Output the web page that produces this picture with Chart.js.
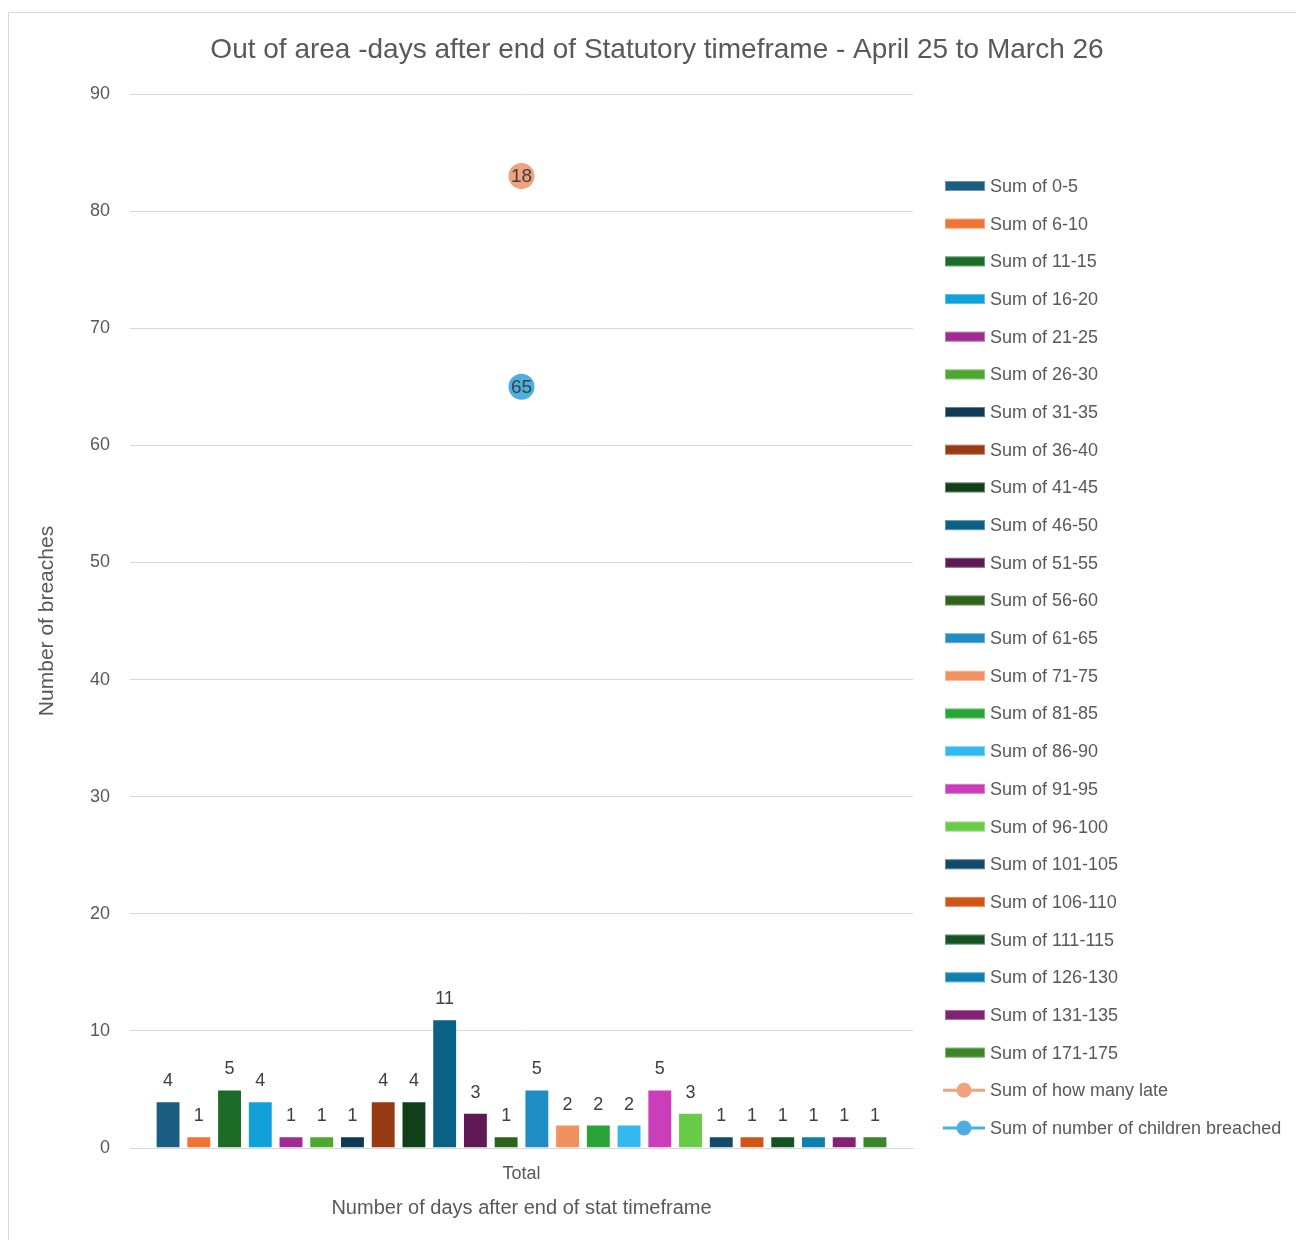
<!DOCTYPE html>
<html>
<head>
<meta charset="utf-8">
<title>Out of area - days after end of Statutory timeframe</title>
<script src="https://cdn.jsdelivr.net/npm/chart.js@4/dist/chart.umd.min.js"></script>
<style>
  html, body { margin: 0; padding: 0; background: #ffffff; }
  #wrap { position: relative; width: 1296px; height: 1240px; }
  canvas { display: block; }
</style>
</head>
<body>
<div id="wrap"><canvas id="chart" width="1296" height="1240"></canvas></div>
<script>
// ---- data ----
const categories = ['Total'];
const bandLabels = [
  'Sum of 0-5', 'Sum of 6-10', 'Sum of 11-15', 'Sum of 16-20', 'Sum of 21-25',
  'Sum of 26-30', 'Sum of 31-35', 'Sum of 36-40', 'Sum of 41-45', 'Sum of 46-50',
  'Sum of 51-55', 'Sum of 56-60', 'Sum of 61-65', 'Sum of 71-75', 'Sum of 81-85',
  'Sum of 86-90', 'Sum of 91-95', 'Sum of 96-100', 'Sum of 101-105', 'Sum of 106-110',
  'Sum of 111-115', 'Sum of 126-130', 'Sum of 131-135', 'Sum of 171-175'
];
const bandCounts = [4, 1, 5, 4, 1, 1, 1, 4, 4, 11, 3, 1, 5, 2, 2, 2, 5, 3, 1, 1, 1, 1, 1, 1];
const bandColors = [
  '#1B5E82', '#EE7433', '#1C6B27', '#12A0D8', '#A02B93',
  '#4EA72E', '#0E3A55', '#963B13', '#113F18', '#0B6183',
  '#5F1A56', '#2F631C', '#1F8DC3', '#F0915F', '#29A436',
  '#32BAEE', '#CC3DBA', '#68CB47', '#114A6B', '#D05618',
  '#155323', '#0D80AE', '#832275', '#3D8627'
];
const childrenLabel = 'Sum of number of children breached';
const childrenBreached = [65];
const childrenColor = '#4BAFE1';
const lateLabel = 'Sum of how many late';
const howManyLate = [18];
const lateColor = '#F2A27B';

const titleText = 'Out of area -days after end of Statutory timeframe - April 25 to March 26';
const yTitle = 'Number of breaches';
const xTitle = 'Number of days after end of stat timeframe';
const yTicks = { min: 0, max: 90, step: 10 };

const FONT = '"Liberation Sans", Arial, sans-serif';
const TEXT = '#595959';
const LABEL = '#404040';
const GRID = '#D9D9D9';

Chart.defaults.font.family = FONT;
Chart.defaults.color = TEXT;

// ---- datasets ----
const barSets = bandLabels.map((label, i) => ({
  type: 'bar',
  label,
  data: [bandCounts[i]],
  backgroundColor: bandColors[i],
  borderColor: 'rgba(255,255,255,0.35)',
  borderWidth: 1,
  yAxisID: 'y',
  barPercentage: 0.81,
  categoryPercentage: 0.942
}));

// The two totals are stacked lines: "how many late" sits on top of "children breached".
const lineSets = [
  { type: 'line', label: childrenLabel, data: childrenBreached, yAxisID: 'yStack',
    borderColor: childrenColor, backgroundColor: childrenColor,
    pointBackgroundColor: childrenColor, pointBorderWidth: 0, pointRadius: 13, showLine: false },
  { type: 'line', label: lateLabel, data: howManyLate, yAxisID: 'yStack',
    borderColor: lateColor, backgroundColor: lateColor,
    pointBackgroundColor: lateColor, pointBorderWidth: 0, pointRadius: 13, showLine: false }
];

// ---- plugins ----
const framePlugin = {
  id: 'frame',
  beforeDraw(chart) {
    const ctx = chart.ctx;
    ctx.save();
    ctx.fillStyle = '#ffffff';
    ctx.fillRect(0, 0, chart.width, chart.height);
    ctx.strokeStyle = '#D9D9D9';
    ctx.lineWidth = 1;
    ctx.strokeRect(8.5, 12.5, chart.width + 20, chart.height + 20);
    ctx.restore();
  }
};

const titlePlugin = {
  id: 'chartTitle',
  afterDraw(chart) {
    const ctx = chart.ctx;
    ctx.save();
    ctx.font = '28px ' + FONT;
    ctx.fillStyle = TEXT;
    ctx.textAlign = 'center';
    ctx.textBaseline = 'middle';
    ctx.fillText(titleText, 657, 50);
    ctx.restore();
  }
};

const valueLabelPlugin = {
  id: 'valueLabels',
  afterDatasetsDraw(chart) {
    const ctx = chart.ctx;
    ctx.save();
    ctx.fillStyle = LABEL;
    ctx.textAlign = 'center';
    chart.data.datasets.forEach((ds, i) => {
      const meta = chart.getDatasetMeta(i);
      if (meta.hidden) return;
      meta.data.forEach((el, j) => {
        const v = ds.data[j];
        if (meta.type === 'bar') {
          ctx.font = '18px ' + FONT;
          ctx.textBaseline = 'alphabetic';
          ctx.fillText(String(v), el.x, el.y - 15);
        } else {
          ctx.font = '19px ' + FONT;
          ctx.textBaseline = 'middle';
          ctx.fillText(String(v), el.x, el.y + 1);
        }
      });
    });
    ctx.restore();
  }
};

const legendPlugin = {
  id: 'sideLegend',
  afterDraw(chart) {
    const ctx = chart.ctx;
    const ds = chart.data.datasets;
    // bars first, then the late line, then the children line
    const order = ds.map((d, i) => i).filter(i => ds[i].type === 'bar');
    order.push(ds.findIndex(d => d.label === lateLabel));
    order.push(ds.findIndex(d => d.label === childrenLabel));
    const x0 = 945, swatchW = 40, textX = 990, firstY = 186, step = 37.68;
    ctx.save();
    ctx.font = '18px ' + FONT;
    ctx.textBaseline = 'middle';
    ctx.textAlign = 'left';
    order.forEach((idx, row) => {
      const d = ds[idx];
      const y = firstY + row * step;
      if (d.type === 'bar') {
        ctx.fillStyle = d.backgroundColor;
        ctx.fillRect(x0, y - 5, swatchW, 10);
        ctx.strokeStyle = 'rgba(255,255,255,0.35)';
        ctx.lineWidth = 1;
        ctx.strokeRect(x0 + 0.5, y - 4.5, swatchW - 1, 9);
      } else {
        ctx.strokeStyle = d.borderColor;
        ctx.lineWidth = 3;
        ctx.beginPath();
        ctx.moveTo(x0 - 2, y);
        ctx.lineTo(x0 + swatchW, y);
        ctx.stroke();
        ctx.fillStyle = d.borderColor;
        ctx.beginPath();
        ctx.arc(x0 + swatchW / 2 - 1, y, 7.5, 0, Math.PI * 2);
        ctx.fill();
      }
      ctx.fillStyle = TEXT;
      ctx.fillText(d.label, textX, y + 1);
    });
    ctx.restore();
  }
};

// ---- chart ----
new Chart(document.getElementById('chart'), {
  type: 'bar',
  data: { labels: categories, datasets: [...barSets, ...lineSets] },
  options: {
    responsive: false,
    devicePixelRatio: 1,
    animation: false,
    events: [],
    layout: { padding: { left: 0, right: 383, top: 94, bottom: 0 } },
    plugins: {
      legend: { display: false },
      title: { display: false },
      tooltip: { enabled: false }
    },
    scales: {
      x: {
        grid: { display: false, drawTicks: false },
        border: { display: true, color: GRID, width: 1 },
        ticks: { font: { size: 18 }, color: TEXT, padding: 15 },
        title: { display: true, text: xTitle, font: { size: 20 }, color: TEXT,
                 padding: { top: 0, bottom: 20 } },
        afterFit(scale) { scale.height = 92; }
      },
      y: {
        min: yTicks.min, max: yTicks.max,
        grid: { color: GRID, lineWidth: 1, drawTicks: false },
        border: { display: false },
        ticks: { stepSize: yTicks.step, font: { size: 18 }, color: TEXT, padding: 20 },
        title: { display: true, text: yTitle, font: { size: 21 }, color: TEXT,
                 padding: { top: 34.4, bottom: 0 } },
        afterFit(scale) { scale.width = 130; }
      },
      yStack: {
        stacked: true,
        display: false,
        min: yTicks.min, max: yTicks.max
      }
    }
  },
  plugins: [framePlugin, titlePlugin, valueLabelPlugin, legendPlugin]
});
</script>
</body>
</html>
